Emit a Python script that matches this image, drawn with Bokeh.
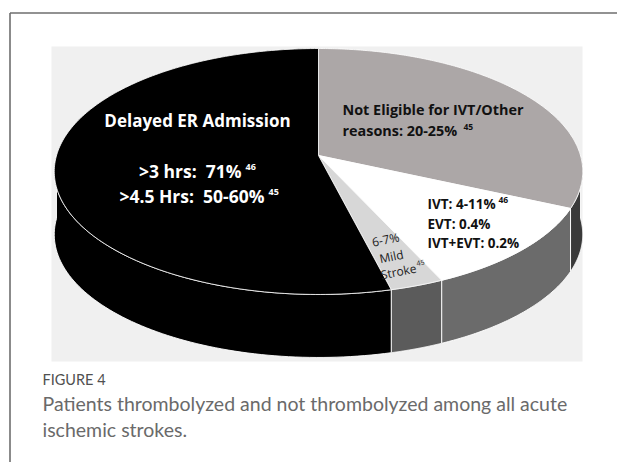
import numpy as np
from bokeh.plotting import figure
from bokeh.models import Range1d
from bokeh.core.properties import value
from bokeh.embed import file_html
from bokeh.resources import INLINE

NB = "\u00a0"
# ---------------- data ----------------
slice_names = ["Not Eligible for IVT/Other reasons", "IVT/EVT", "Mild Stroke", "Delayed ER Admission"]
slice_values = [31.8, 11.4, 2.9, 53.9]          # share of the pie as drawn (%)
top_colors = ["#aca7a7", "#ffffff", "#d7d7d7", "#000000"]
side_colors = ["#3a3a3a", "#6b6b6b", "#5b5b5b", "#000000"]

delayed_title = ["Delayed ER Admission"]
delayed_lines = [">3 hrs:" + NB + NB + "71%", ">4.5 Hrs:" + NB + NB + "50-60%"]
delayed_refs = ["46", "45"]
noteligible_lines = ["Not Eligible for IVT/Other", "reasons: 20-25%"]
noteligible_ref = ["45"]
ivt_lines = ["IVT: 4-11%", "EVT: 0.4%", "IVT+EVT: 0.2%"]
ivt_ref = ["46"]
mild_lines = ["6-7%", "Mild", "Stroke"]
mild_ref = ["45"]
fig_label = ["FIGURE 4"]
caption_lines = ["Patients thrombolyzed and not thrombolyzed among all acute",
                 "ischemic strokes."]

# ---------------- geometry (page pixel coords, y down) ----------------
CX, CY, A, B, K, DEPTH = 318.0, 155.0, 262.0, 120.9, 0.13, 63.0


def proj(t_deg):
    t = np.radians(t_deg)
    u, v = np.cos(t), np.sin(t)
    w = 1.0 - K * v
    return CX + A * u / w, CY + B * v / w


W, H = 617, 462
p = figure(width=W, height=H, output_backend="svg", toolbar_location=None,
           x_range=Range1d(0, W), y_range=Range1d(H, 0),
           x_axis_type=None, y_axis_type=None, min_border=0,
           outline_line_color=None, background_fill_color="white",
           border_fill_color="white")

# card border
p.segment(x0=[9.5, 9.5], y0=[12.5, 12.5], x1=[W + 5, 9.5], y1=[12.5, H + 5],
          line_color="#6e6e6e", line_width=1.6)
# chart image background
p.quad(left=[51], right=[582], top=[46], bottom=[361], fill_color="#f0f0f0",
       line_color=None)

total = float(sum(slice_values))
starts, ends = [], []
a = -90.0
for v in slice_values:
    starts.append(a)
    a += 360.0 * v / total
    ends.append(a)

# side walls (front half only)
side_xs, side_ys, side_cols = [], [], []
for a0, a1, c in zip(starts, ends, side_colors):
    lo, hi = max(a0, 0.0), min(a1, 180.0)
    if hi <= lo:
        continue
    ts = np.linspace(lo, hi, 80)
    xt, yt = proj(ts)
    xs = list(xt) + list(xt[::-1])
    ys = list(yt) + list((yt + DEPTH)[::-1])
    side_xs.append(xs)
    side_ys.append(ys)
    side_cols.append(c)
p.patches(xs=side_xs, ys=side_ys, fill_color=side_cols, line_color="white",
          line_width=1, line_alpha=0.9)

# top surface
top_xs, top_ys = [], []
for a0, a1 in zip(starts, ends):
    ts = np.linspace(a0, a1, 200)
    xt, yt = proj(ts)
    top_xs.append([CX] + list(xt))
    top_ys.append([CY] + list(yt))
p.patches(xs=top_xs, ys=top_ys, fill_color=top_colors, line_color="white",
          line_width=0.9, line_alpha=0.9)

F = value("Open Sans")
# Delayed ER Admission block
p.text(x=[197], y=[120], text=delayed_title, text_font=F, text_font_size="17px",
       text_font_style="bold", text_color="white", text_align="center",
       text_baseline="middle")
p.text(x=[241, 264], y=[170, 195], text=delayed_lines, text_font=F,
       text_font_size="17.5px", text_font_style="bold", text_color="white",
       text_align="right", text_baseline="middle")
p.text(x=[245, 268], y=[166, 191], text=delayed_refs, text_font=F,
       text_font_size="9px", text_font_style="bold", text_color="white",
       text_align="left", text_baseline="middle")

# Not eligible block
p.text(x=[342, 342], y=[109, 130], text=noteligible_lines, text_font=F,
       text_font_size="14.4px", text_font_style="bold", text_color="#111111",
       text_align="left", text_baseline="middle")
p.text(x=[463], y=[126], text=noteligible_ref, text_font=F, text_font_size="8.5px",
       text_font_style="bold", text_color="#111111", text_align="left",
       text_baseline="middle")

# IVT block
p.text(x=[427, 427, 427], y=[203, 223, 242], text=ivt_lines, text_font=F,
       text_font_size="13.5px", text_font_style="bold", text_color="#111111",
       text_align="left", text_baseline="middle")
p.text(x=[498], y=[199], text=ivt_ref, text_font=F, text_font_size="8.5px",
       text_font_style="bold", text_color="#111111", text_align="left",
       text_baseline="middle")

# Mild stroke block
p.text(x=[385, 391, 398], y=[239, 256, 271], text=mild_lines, text_font=F,
       text_font_size="12px", text_color="#222222", text_align="center",
       text_baseline="middle", angle=0.2)
p.text(x=[416], y=[263], text=mild_ref, text_font=F, text_font_size="7px",
       text_color="#222222", text_align="left", text_baseline="middle", angle=0.2)

# caption
p.text(x=[42], y=[379], text=fig_label, text_font=value("Lato"),
       text_font_size="14.5px", text_color="#505050", text_align="left",
       text_baseline="middle")
p.text(x=[42, 42], y=[403, 429], text=caption_lines, text_font=value("Lato"),
       text_font_size="19.5px", text_color="#6a6a6a", text_align="left",
       text_baseline="middle")

open("out.html", "w").write(file_html(p, INLINE))
